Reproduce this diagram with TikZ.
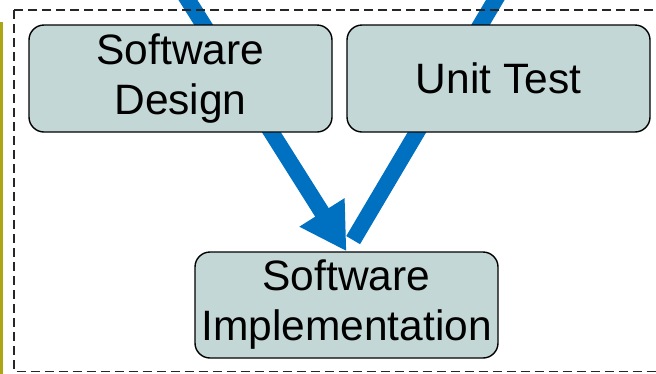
\documentclass[tikz,border=0pt]{standalone}
\usepackage{fontspec}
\setmainfont{Liberation Sans}
\usepackage{xcolor}
\usepackage{tikz}
\usetikzlibrary{arrows.meta,backgrounds}

\definecolor{boxfill}{RGB}{195,216,214}
\definecolor{flowblue}{RGB}{0,112,192}
\definecolor{olivebar}{RGB}{172,166,20}

\begin{document}
\begin{tikzpicture}[x=1pt, y=-1pt,
    stagebox/.style={draw=black, line width=1.4pt, fill=boxfill, rounded corners=15pt,
        minimum width=303pt, minimum height=107pt, inner sep=0pt, align=center,
        font=\fontsize{42.5}{50}\selectfont},
    flowline/.style={flowblue, line width=16pt},
    flowarrow/.style={flowline, -{Triangle[length=46pt, width=50pt]}}]
    \useasboundingbox (0,0) rectangle (656,373);
    \clip (0,0) rectangle (656,373);

    % Frame
    \draw [olivebar, line width=2.5pt] (1.5,22) -- (1.5,380);
    \draw [black!85, line width=1.2pt, dash pattern=on 9pt off 5pt] (14,10) rectangle (700,371.5);

    % Stages
    \node [stagebox] (design) at (180.5,78.5) {Software\\Design};
    \node [stagebox] (unittest) at (498.5,78.5) {Unit Test};
    \node [stagebox, minimum height=106pt] (impl) at (346.5,305) {Software\\Implementation};

    % Flow
    \coordinate (designin) at (169,-30);
    \coordinate (testout) at (513,-30);
    \begin{scope}[on background layer]
        \draw [flowarrow] (designin) -- (impl.north);
        \draw [flowline, shorten <=13pt] (impl.north) -- (testout);
    \end{scope}
\end{tikzpicture}
\end{document}
